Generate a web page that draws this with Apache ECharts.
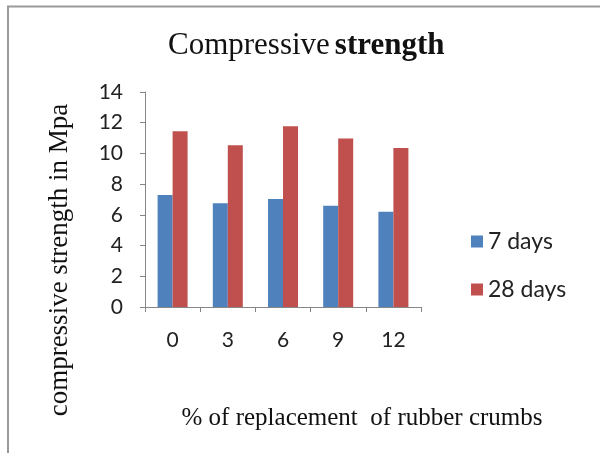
<!DOCTYPE html>
<html>
<head>
<meta charset="utf-8">
<script src="https://cdn.jsdelivr.net/npm/echarts@6/dist/echarts.min.js"></script>
<style>
html, body { margin: 0; padding: 0; background: #fff; }
#chart { width: 600px; height: 453px; }
</style>
</head>
<body>
<div id="chart"></div>
<script>
const categories = ['0', '3', '6', '9', '12']
const days7 = [7.3, 6.76, 7.04, 6.59, 6.21]
const days28 = [11.45, 10.53, 11.77, 10.97, 10.36]
const yTicks = { min: 0, max: 14, interval: 2 }

let myChart = echarts.init(document.getElementById('chart'))
let option = {
    backgroundColor: '#fff',
    animation: false,
    title: {
        text: '{n|Compressive}{s| }{b|strength}',
        left: 163,
        top: 25,
        textStyle: {
            fontWeight: 'normal',
            rich: {
                n: { fontFamily: 'Liberation Serif', fontSize: 31, fontWeight: 'normal', color: '#111' },
                s: { fontFamily: 'Liberation Serif', fontSize: 20, fontWeight: 'normal', color: '#111' },
                b: { fontFamily: 'Liberation Serif', fontSize: 31, fontWeight: 'bold', color: '#111' }
            }
        }
    },
    legend: {
        orient: 'vertical',
        left: 466,
        top: 225,
        itemWidth: 12,
        itemHeight: 12,
        itemGap: 25,
        icon: 'rect',
        textStyle: { fontFamily: 'Lato', fontSize: 23, color: '#222' },
        data: ['7 days', '28 days']
    },
    grid: {
        left: 145,
        right: 179,
        top: 92,
        bottom: 146,
        containLabel: false
    },
    xAxis: {
        type: 'category',
        data: categories,
        axisLine: { lineStyle: { color: '#868686' } },
        axisTick: { show: true, length: 5, lineStyle: { color: '#868686' } },
        axisLabel: { fontFamily: 'Lato', fontSize: 21, color: '#222', margin: 23 }
    },
    yAxis: {
        type: 'value',
        min: yTicks.min,
        max: yTicks.max,
        interval: yTicks.interval,
        splitLine: { show: false },
        axisLine: { show: true, lineStyle: { color: '#868686' } },
        axisTick: { show: true, length: 5, lineStyle: { color: '#868686' } },
        axisLabel: { fontFamily: 'Lato', fontSize: 21, color: '#222', margin: 22 }
    },
    graphic: [
        {
            type: 'rect',
            shape: { x: 8, y: 6.5, width: 640, height: 500 },
            style: { fill: 'none', stroke: '#9a9a9a', lineWidth: 2 },
            silent: true
        },
        {
            type: 'text',
            x: 60,
            y: 260,
            rotation: Math.PI / 2,
            style: {
                text: 'compressive strength in Mpa',
                fontFamily: 'Liberation Serif',
                fontSize: 27,
                fill: '#111',
                align: 'center',
                verticalAlign: 'middle'
            }
        },
        {
            type: 'text',
            x: 362,
            y: 418,
            style: {
                text: '% of replacement  of rubber crumbs',
                fontFamily: 'Liberation Serif',
                fontSize: 25,
                fill: '#111',
                align: 'center',
                verticalAlign: 'middle'
            }
        }
    ],
    series: [
        {
            name: '7 days',
            type: 'bar',
            data: days7,
            barWidth: 15,
            barGap: '0%',
            itemStyle: { color: '#4F81BD' }
        },
        {
            name: '28 days',
            type: 'bar',
            data: days28,
            barWidth: 15,
            itemStyle: { color: '#C0504D' }
        }
    ]
}
myChart.setOption(option)
window.addEventListener('resize', function () {
    myChart.resize()
})
</script>
</body>
</html>
